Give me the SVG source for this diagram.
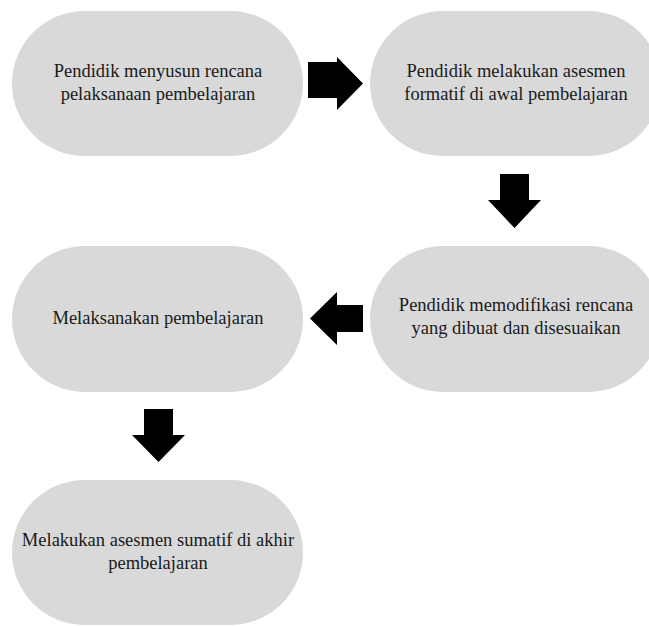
<svg xmlns="http://www.w3.org/2000/svg" width="649" height="626" viewBox="0 0 649 626">
<style>
.node{fill:#d9d9d9;}
.lbl{font-family:'Liberation Serif','Times New Roman',serif;font-size:18.5px;fill:#1a1a1a;text-anchor:middle;}
.arr{fill:#000;}
</style>
<rect x="0" y="0" width="649" height="626" fill="#fff"/>
<g id="n1"><rect class="node" x="12" y="11" width="291" height="145" rx="72.5"/>
<text class="lbl" x="158" y="77"><tspan x="158">Pendidik menyusun rencana</tspan><tspan x="158" y="100">pelaksanaan pembelajaran</tspan></text></g>
<g id="n2"><rect class="node" x="370" y="11" width="291" height="145" rx="72.5"/>
<text class="lbl" x="516" y="77"><tspan x="516">Pendidik melakukan asesmen</tspan><tspan x="516" y="100">formatif di awal pembelajaran</tspan></text></g>
<g id="n3"><rect class="node" x="370" y="246" width="291" height="146" rx="73"/>
<text class="lbl" x="516" y="311"><tspan x="516">Pendidik memodifikasi rencana</tspan><tspan x="516" y="334">yang dibuat dan disesuaikan</tspan></text></g>
<g id="n4"><rect class="node" x="12" y="246" width="291" height="146" rx="73"/>
<text class="lbl" x="158" y="324">Melaksanakan pembelajaran</text></g>
<g id="n5"><rect class="node" x="12" y="480" width="291" height="145" rx="72.5"/>
<text class="lbl" x="158" y="546"><tspan x="158">Melakukan asesmen sumatif di akhir</tspan><tspan x="158" y="569">pembelajaran</tspan></text></g>
<g id="connectors">
<polygon class="arr" points="308,62 337,62 337,57 363,83.5 337,110 337,98 308,98"/>
<polygon class="arr" points="500,174 529,174 529,200 541,200 514.5,228 488,200 500,200"/>
<polygon class="arr" points="363,305 337,305 337,292 310,318.5 337,345 337,332 363,332"/>
<polygon class="arr" points="144,409 173,409 173,435 185,435 158.5,462 132,435 144,435"/>
</g>
</svg>
